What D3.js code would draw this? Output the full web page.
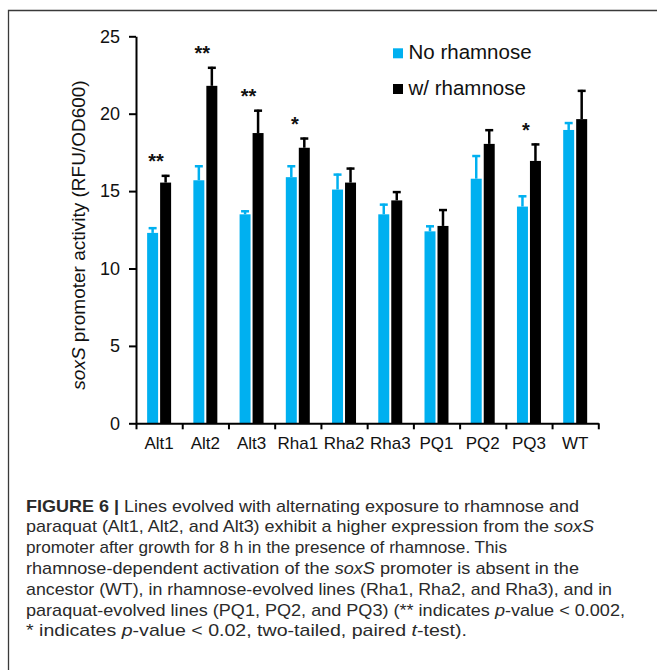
<!DOCTYPE html>
<html>
<head>
<meta charset="utf-8">
<script src="https://cdn.jsdelivr.net/npm/d3@7"></script>
<style>
  body { margin: 0; background: #fff; }
  svg { display: block; font-family: "Liberation Sans", Arial, sans-serif; }
</style>
</head>
<body>
<div id="chart"></div>
<script>
// values
const categories = ["Alt1", "Alt2", "Alt3", "Rha1", "Rha2", "Rha3", "PQ1", "PQ2", "PQ3", "WT"];
const series = ["No rhamnose", "w/ rhamnose"];
const noRhamnose    = [12.3, 15.7, 13.5, 15.9, 15.1, 13.5, 12.4, 15.8, 14.0, 18.95];
const noRhamnoseErr = [0.37, 0.97, 0.26, 0.77, 1.03, 0.69, 0.39, 1.53, 0.73, 0.51];
const wRhamnose     = [15.55, 21.8, 18.75, 17.8, 15.55, 14.4, 12.75, 18.05, 16.95, 19.65];
const wRhamnoseErr  = [0.5, 1.23, 1.51, 0.66, 0.97, 0.6, 1.09, 0.95, 1.13, 1.89];
const significance  = ["**", "**", "**", "*", "", "", "", "", "*", ""];
const yTicks = [0, 5, 10, 15, 20, 25];

const colors = ["#00b0f0", "#000000"];

const captionLines = [
  [["FIGURE 6 | ", "b"], ["Lines evolved with alternating exposure to rhamnose and", ""]],
  [["paraquat (Alt1, Alt2, and Alt3) exhibit a higher expression from the ", ""], ["soxS", "i"]],
  [["promoter after growth for 8 h in the presence of rhamnose. This", ""]],
  [["rhamnose-dependent activation of the ", ""], ["soxS", "i"], [" promoter is absent in the", ""]],
  [["ancestor (WT), in rhamnose-evolved lines (Rha1, Rha2, and Rha3), and in", ""]],
  [["paraquat-evolved lines (PQ1, PQ2, and PQ3) (** indicates ", ""], ["p", "i"], ["-value < 0.002,", ""]],
  [["* indicates ", ""], ["p", "i"], ["-value < 0.02, two-tailed, paired ", ""], ["t", "i"], ["-test).", ""]]
];
const captionWidths = [553, 568, 481, 553, 586, 599, 441];

const W = 657, H = 670;
const svg = d3.select("#chart").append("svg")
    .attr("width", W)
    .attr("height", H);

svg.append("rect").attr("width", W).attr("height", H).attr("fill", "#fff");

// frame
svg.append("path")
    .attr("d", "M8.5," + H + "V10.5H" + W)
    .attr("fill", "none")
    .attr("stroke", "#3a3a3a")
    .attr("stroke-width", 1.3);

// scales
const plotLeft = 136, plotRight = 598.3, plotTop = 36.3, plotBottom = 423.3;
const y = d3.scaleLinear().domain([0, 25]).range([plotBottom, plotTop]);
const x0 = d3.scaleBand().domain(categories).range([plotLeft, plotRight]).padding(0);
const gw = x0.bandwidth();
const x1 = d3.scaleBand().domain(series).range([gw * 0.219, gw * 0.781]).padding(0);
const bw = x1.bandwidth();

const data = categories.map((c, i) => ({
  cat: c,
  sig: significance[i],
  vals: [
    {s: series[0], v: noRhamnose[i], e: noRhamnoseErr[i], c: colors[0]},
    {s: series[1], v: wRhamnose[i], e: wRhamnoseErr[i], c: colors[1]}
  ]
}));

// groups
const groups = svg.append("g").selectAll("g")
    .data(data)
  .enter().append("g")
    .attr("transform", d => "translate(" + x0(d.cat) + ",0)");

groups.selectAll("rect")
    .data(d => d.vals)
  .enter().append("rect")
    .attr("x", d => x1(d.s) + 1)
    .attr("width", bw - 2)
    .attr("y", d => y(d.v))
    .attr("height", d => y(0) - y(d.v))
    .attr("fill", d => d.c);

// error bars (upper only)
const err = groups.selectAll("g.err")
    .data(d => d.vals)
  .enter().append("g")
    .attr("class", "err")
    .attr("stroke", d => d.c)
    .attr("stroke-width", 2.5);

err.append("line")
    .attr("x1", d => x1(d.s) + bw / 2)
    .attr("x2", d => x1(d.s) + bw / 2)
    .attr("y1", d => y(d.v))
    .attr("y2", d => y(d.v + d.e));

err.append("line")
    .attr("x1", d => x1(d.s) + bw / 2 - 4)
    .attr("x2", d => x1(d.s) + bw / 2 + 4)
    .attr("y1", d => y(d.v + d.e) + 1)
    .attr("y2", d => y(d.v + d.e) + 1);

// significance stars
groups.append("text")
    .attr("x", gw / 2 - 3)
    .attr("y", d => y(d.vals[1].v + d.vals[1].e) - 6.5)
    .attr("text-anchor", "middle")
    .attr("font-size", 20)
    .attr("font-weight", "bold")
    .attr("fill", "#111")
    .text(d => d.sig);

// y axis
const yAxis = svg.append("g")
    .attr("transform", "translate(" + plotLeft + ",0)")
    .call(d3.axisLeft(y).tickValues(yTicks).tickSize(7).tickSizeOuter(0).tickPadding(9));
yAxis.select(".domain").attr("stroke", "#000").attr("stroke-width", 2);
yAxis.selectAll(".tick line").attr("stroke", "#000").attr("stroke-width", 2);
yAxis.selectAll(".tick text")
    .attr("font-size", 18)
    .attr("font-family", "Liberation Sans, Arial, sans-serif")
    .attr("fill", "#111");

// x axis: boundary ticks
const xb = d3.scaleLinear().domain([0, categories.length]).range([plotLeft, plotRight]);
const xAxisTicks = svg.append("g")
    .attr("transform", "translate(0," + plotBottom + ")")
    .call(d3.axisBottom(xb).ticks(categories.length).tickSize(6).tickSizeOuter(0).tickFormat(""));
xAxisTicks.select(".domain").attr("stroke", "#000").attr("stroke-width", 2);
xAxisTicks.selectAll(".tick line").attr("stroke", "#000").attr("stroke-width", 2);

// x axis: category labels
const xAxisLabels = svg.append("g")
    .attr("transform", "translate(0," + plotBottom + ")")
    .call(d3.axisBottom(x0).tickSize(0).tickPadding(14));
xAxisLabels.select(".domain").remove();
xAxisLabels.selectAll(".tick text")
    .attr("font-size", 17)
    .attr("font-family", "Liberation Sans, Arial, sans-serif")
    .attr("fill", "#111");

// y axis title
const yTitle = svg.append("text")
    .attr("transform", "translate(85," + 235 + ") rotate(-90)")
    .attr("text-anchor", "middle")
    .attr("font-size", 19)
    .attr("fill", "#111");
yTitle.append("tspan").attr("font-style", "italic").text("soxS");
yTitle.append("tspan").text(" promoter activity (RFU/OD600)");

// legend
const legend = svg.append("g").selectAll("g")
    .data(series)
  .enter().append("g")
    .attr("transform", (d, i) => "translate(393," + (48.3 + i * 35.7) + ")");
legend.append("rect")
    .attr("width", 10)
    .attr("height", 10)
    .attr("fill", (d, i) => colors[i]);
legend.append("text")
    .attr("x", 15.5)
    .attr("y", 10.5)
    .attr("font-size", 20.5)
    .attr("fill", "#111")
    .text(d => d);

// caption
const cap = svg.append("g").attr("fill", "#2a2a2a");
captionLines.forEach((line, i) => {
  const t = cap.append("text")
      .attr("x", 26)
      .attr("y", 511.5 + i * 20.8)
      .attr("font-size", 17)
      .attr("textLength", captionWidths[i])
      .attr("lengthAdjust", "spacingAndGlyphs");
  line.forEach(seg => {
    const sp = t.append("tspan").text(seg[0]);
    if (seg[1] === "b") sp.attr("font-weight", "bold");
    if (seg[1] === "i") sp.attr("font-style", "italic");
  });
});
</script>
</body>
</html>
